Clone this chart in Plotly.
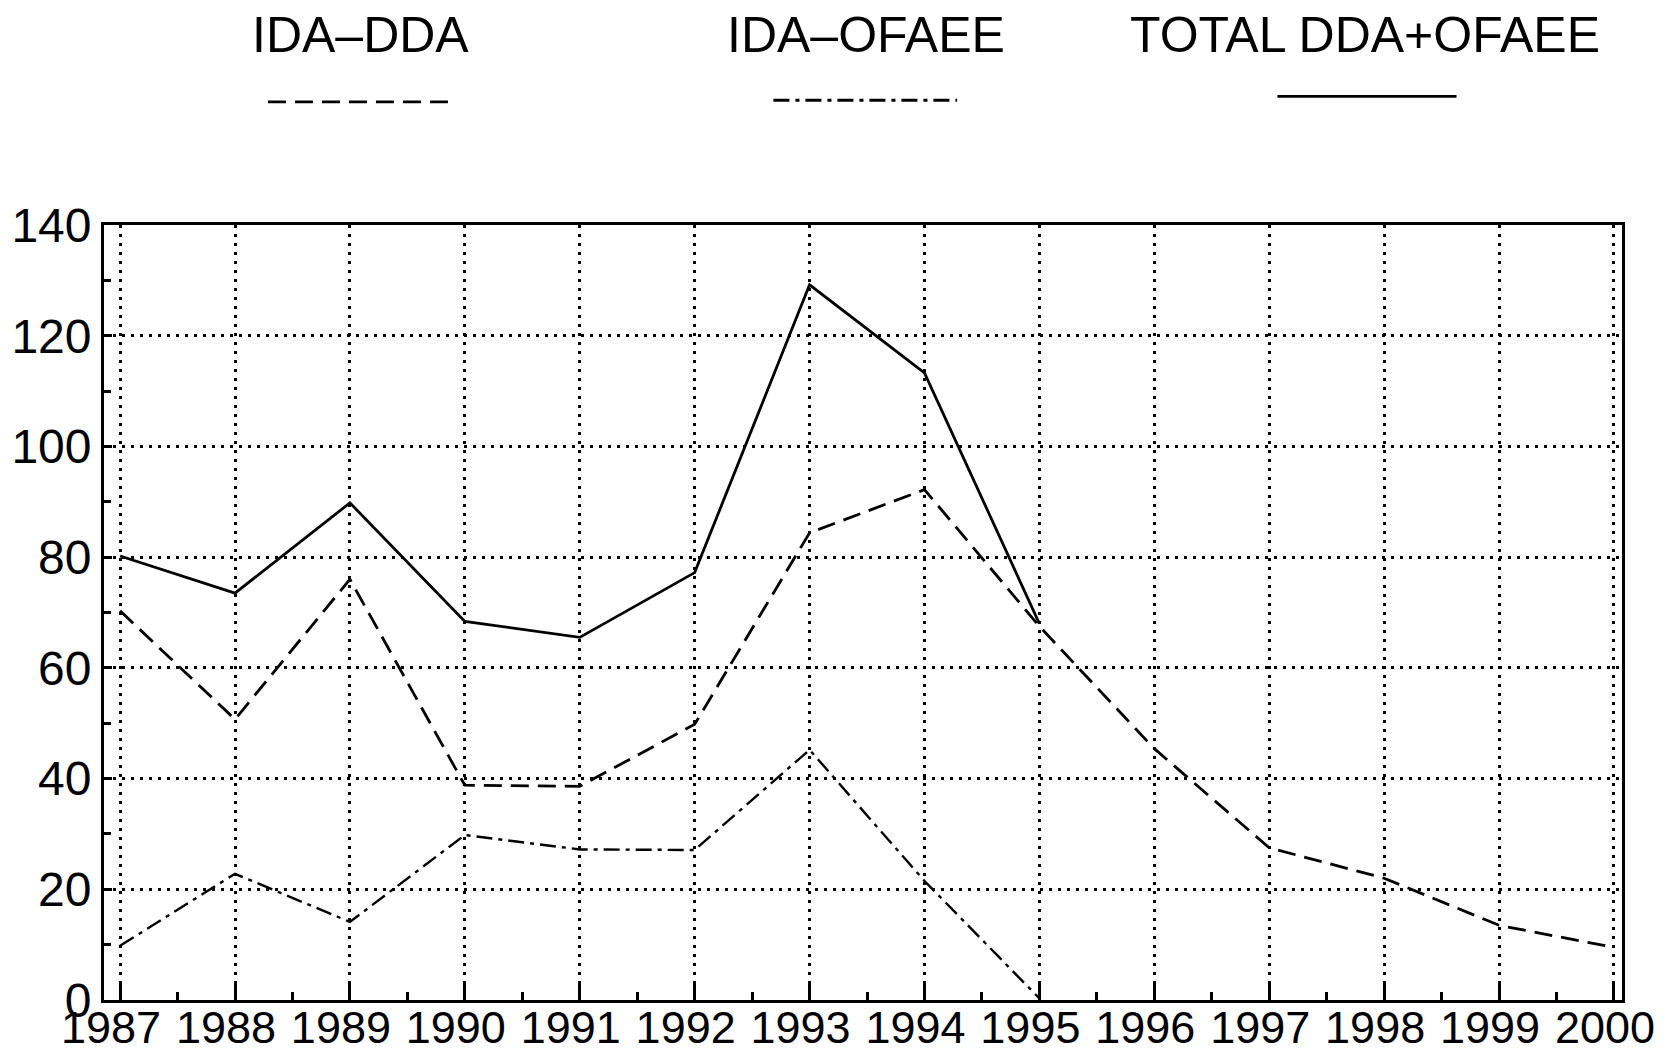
import plotly.graph_objects as go

years = list(range(1987, 2001))
years_short = list(range(1987, 1996))
year_labels = [str(y) for y in years]

ida_dda = [70.3, 50.7, 76, 38.8, 38.6, 49.8, 84.4, 92.2, 67.5, 45.4, 27.5, 22, 13.5, 9.5]
ida_ofaee = [9.8, 22.8, 14.1, 29.8, 27.2, 27.1, 45.2, 21.5, 0.3]
total = [80.2, 73.5, 89.8, 68.4, 65.5, 77.2, 129.2, 113.3, 68]

legend_names = ["IDA–DDA", "IDA–OFAEE", "TOTAL DDA+OFAEE"]
y_ticks = [0, 20, 40, 60, 80, 100, 120, 140]

FONT = "Liberation Sans, Arial, sans-serif"
DASH_DDA = "18px,9px"
DASH_OFAEE = "16px,6px,4px,6px"
GRID_DASH = "3px,6px"

fig = go.Figure()
fig.add_trace(go.Scatter(x=years, y=ida_dda, mode="lines", name=legend_names[0],
                         line=dict(color="black", width=2.8, dash=DASH_DDA)))
fig.add_trace(go.Scatter(x=years_short, y=ida_ofaee, mode="lines", name=legend_names[1],
                         line=dict(color="black", width=2.4, dash=DASH_OFAEE)))
fig.add_trace(go.Scatter(x=years_short, y=total, mode="lines", name=legend_names[2],
                         line=dict(color="black", width=2.8)))

# Custom legend: text above, line sample below (paper coords relative to plot area)
leg_x = [0.169, 0.502, 0.831]
leg_line = [(0.108, 0.227), (0.441, 0.562), (0.773, 0.891)]
leg_line_y = [1.159, 1.161, 1.166]
dashes = [DASH_DDA, DASH_OFAEE, "solid"]
for i, name in enumerate(legend_names):
    fig.add_annotation(x=leg_x[i], y=1.245, xref="paper", yref="paper", text=name,
                       showarrow=False, xanchor="center", yanchor="middle",
                       font=dict(family=FONT, size=50, color="black"))
    x0, x1 = leg_line[i]
    fig.add_shape(type="line", xref="paper", yref="paper", x0=x0, x1=x1,
                  y0=leg_line_y[i], y1=leg_line_y[i],
                  line=dict(color="black", width=2.8, dash=dashes[i]))

# page body has an 8px margin: keep the figure inside the window (no scrollbars)
fig.update_layout(
    width=1652, height=1046,
    margin=dict(l=96, r=38, t=217, b=54, autoexpand=False),
    paper_bgcolor="white", plot_bgcolor="white",
    showlegend=False,
    font=dict(family=FONT, color="black"),
)
fig.update_xaxes(
    range=[1986.86, 2000.07], tickvals=years, ticktext=year_labels,
    tickangle=0, automargin=False, ticklabeloverflow="allow",
    ticklabelstandoff=-14, ticklabelshift=-9,
    ticks="inside", ticklen=17, tickwidth=2.5, tickcolor="black",
    minor=dict(dtick=0.5, tick0=1987, ticks="inside", ticklen=8, tickwidth=2.5, tickcolor="black", showgrid=False),
    showgrid=True, gridcolor="black", gridwidth=2.5, griddash=GRID_DASH,
    showline=True, linecolor="black", linewidth=2.8, mirror=True, zeroline=False,
    tickfont=dict(family=FONT, size=45, color="black"),
)
fig.update_yaxes(
    range=[0, 140], tickvals=y_ticks, automargin=False,
    ticks="inside", ticklen=8, tickwidth=2.5, tickcolor="black",
    minor=dict(dtick=10, tick0=0, ticks="inside", ticklen=7, tickwidth=2.5, tickcolor="black", showgrid=False),
    showgrid=True, gridcolor="black", gridwidth=2.5, griddash=GRID_DASH,
    showline=True, linecolor="black", linewidth=2.8, mirror=True, zeroline=False,
    tickfont=dict(family=FONT, size=48, color="black"),
)

fig.write_html("out.html")
